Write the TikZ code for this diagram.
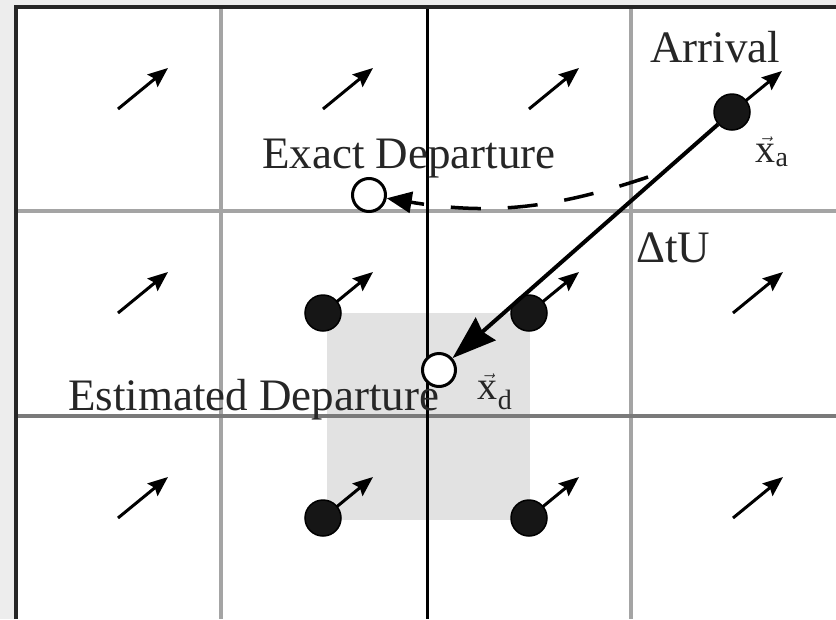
\documentclass[tikz,border=0pt]{standalone}
\usepackage{fontspec}
\setmainfont{Liberation Serif}
\usetikzlibrary{arrows.meta}
\definecolor{bgc}{HTML}{EDEDED}
\definecolor{shadec}{HTML}{E2E2E2}
\definecolor{gridl}{HTML}{A4A4A4}
\definecolor{gridd}{HTML}{7A7A7A}
\definecolor{txt}{HTML}{262626}
\definecolor{dotc}{HTML}{161616}
\begin{document}
\begin{tikzpicture}[x=1pt,y=-1pt,
  lbl/.style={font=\fontsize{45}{54}\selectfont, text=txt, inner sep=0pt, anchor=base west},
  sym/.style={font=\fontsize{40}{48}\selectfont, text=txt, inner sep=0pt},
  fdot/.style={circle, fill=dotc, draw=black, line width=1.5pt, minimum size=36pt, inner sep=0pt},
  odot/.style={circle, fill=white, draw=black, line width=3pt, minimum size=33pt, inner sep=0pt},
  vel/.style={line width=3pt, -{Stealth[length=20pt,width=16pt,inset=3pt]}},
  bigarr/.style={line width=4pt, -{Stealth[length=44pt,width=30pt,inset=4pt]}},
  dasharr/.style={line width=3.5pt, dash pattern=on 30pt off 27pt, -{Triangle[length=25pt,width=21pt]}}
]
\useasboundingbox (0,0) rectangle (836,619);
% background
\fill[bgc] (0,0) rectangle (836,619);
\fill[white] (16,7) rectangle (836,619);
% shaded interpolation square
\fill[fill=shadec] (327,313) rectangle (530,520);
% grid
\draw[gridl, line width=4.5pt] (221,7) -- (221,619);
\draw[gridl, line width=4.5pt] (631,7) -- (631,619);
\draw[gridl, line width=4pt] (16,211) -- (836,211);
\draw[gridd, line width=4pt] (16,416) -- (836,416);
\draw[black, line width=3pt] (427,7) -- (427,619);
\draw[black!85, line width=3.5pt] (16,619) -- (16,7) -- (836,7);
% velocity arrows in empty cells
\foreach \cx/\cy/\n in {118/109/a, 323/109/b, 529/109/c, 118/313/d, 733/313/e, 118/518/f, 733/518/g}{
  \coordinate (s\n) at (\cx,\cy);
  \coordinate (t\n) at (\cx+50,\cy-41);
  \draw[vel] (s\n) -- (t\n);
}
% grid points with dots
\foreach \cx/\cy/\n in {323/313/1, 529/313/2, 323/518/3, 529/518/4, 732/112/5}{
  \coordinate (u\n) at (\cx+50,\cy-41);
  \draw[vel] (\cx,\cy) -- (u\n);
}
\node[fdot] (d1) at (323,313) {};
\node[fdot] (d2) at (529,313) {};
\node[fdot] (d3) at (323,518) {};
\node[fdot] (d4) at (529,518) {};
\node[fdot] (arr) at (732,112) {};
% labels
\node[lbl] (larr) at (650,62) {Arrival};
\node[lbl] (lexact) at (262,168) {Exact Departure};
\node[lbl] (lest) at (68,410) {Estimated Departure};
\node[lbl] (ldt) at (636,262) {ΔtU};
\node[sym] (lxa) at (772,152) {$\vec{\mathrm{x}}_{\mathrm{a}}$};
\node[sym] (lxd) at (495,392) {$\vec{\mathrm{x}}_{\mathrm{d}}$};
% departure points
\node[odot] (exact) at (369,195) {};
\node[odot] (est) at (439,370) {};
% trajectories
\draw[bigarr] (arr) -- (est);
\coordinate (dstart) at (648,177);
\draw[dasharr] (dstart) to[bend left=14] (exact);
\end{tikzpicture}
\end{document}
